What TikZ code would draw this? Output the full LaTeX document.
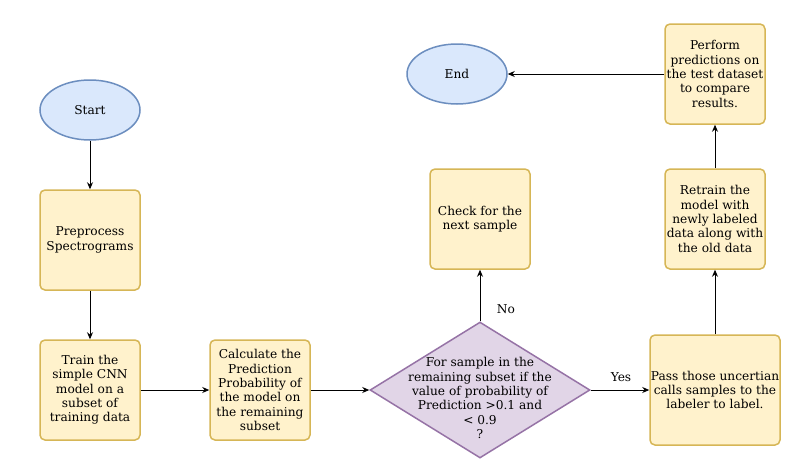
\documentclass[tikz,border=0pt]{standalone}
\usepackage{fontspec}
\setmainfont{DejaVu Serif}
\usetikzlibrary{shapes.geometric,arrows.meta}
\definecolor{termfill}{HTML}{DAE8FC}
\definecolor{termdraw}{HTML}{6C8EBF}
\definecolor{procfill}{HTML}{FFF2CC}
\definecolor{procdraw}{HTML}{D6B656}
\definecolor{decfill}{HTML}{E1D5E7}
\definecolor{decdraw}{HTML}{9673A6}
\tikzset{
  every node/.style={font=\fontsize{12.2}{14.3}\selectfont, align=center, inner sep=0pt},
  term/.style={ellipse, draw=termdraw, fill=termfill, line width=1.5pt, minimum width=100pt, minimum height=60pt},
  proc/.style={rectangle, rounded corners=5pt, draw=procdraw, fill=procfill, line width=1.5pt, minimum width=100pt, minimum height=100pt},
  dec/.style={diamond, draw=decdraw, fill=decfill, line width=1.5pt, minimum width=220pt, minimum height=136pt, aspect=1.62},
  conn/.style={-{Stealth[length=7pt,width=6pt]}, line width=0.9pt, black},
  lbl/.style={font=\fontsize{12.2}{14.3}\selectfont}
}
\begin{document}
\begin{tikzpicture}[x=1pt,y=-1pt]
\useasboundingbox (0,0) rectangle (789,464);
\node[term] (start) at (90,110) {Start};
\node[proc] (pre) at (90,240) {Preprocess\\Spectrograms};
\node[proc] (train) at (90,390) {Train the\\simple CNN\\model on a\\subset of\\training data};
\node[proc] (calc) at (260,390) {Calculate the\\Prediction\\Probability of\\the model on\\the remaining\\subset};
\node[dec] (dec) at (480,390) {};
\node at (480,398) {For sample in the\\remaining subset if the\\value of probability of\\Prediction >0.1 and\\< 0.9\\?};
\node[proc] (check) at (480,219) {Check for the\\next sample};
\node[proc, minimum width=130pt, minimum height=110pt] (pass) at (715,390) {Pass those uncertian\\calls samples to the\\labeler to label.};
\node[proc] (retrain) at (715,219) {Retrain the\\model with\\newly labeled\\data along with\\the old data};
\node[proc] (perf) at (715,74) {Perform\\predictions on\\the test dataset\\to compare\\results.};
\node[term] (end) at (457,74) {End};
\draw[conn] (start) -- (pre);
\draw[conn] (pre) -- (train);
\draw[conn] (train) -- (calc);
\draw[conn] (calc) -- (dec.west);
\draw[conn] (dec.north) -- (check);
\node[lbl] (no) at (506,309) {No};
\draw[conn] (dec.east) -- (pass);
\node[lbl] (yes) at (621,377) {Yes};
\draw[conn] (pass) -- (retrain);
\draw[conn] (retrain) -- (perf);
\draw[conn] (perf) -- (end);
\end{tikzpicture}
\end{document}
